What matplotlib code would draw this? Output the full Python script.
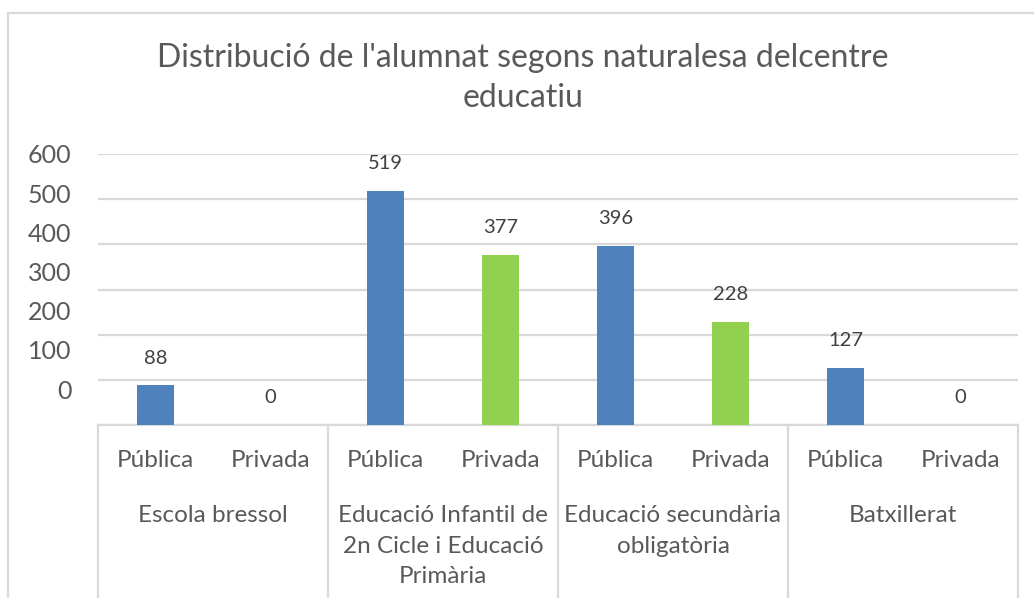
import matplotlib
matplotlib.use("Agg")
import matplotlib.pyplot as plt
from matplotlib.lines import Line2D
import numpy as np

# ---- data ----
groups = ["Escola bressol",
          "Educació Infantil de\n2n Cicle i Educació\nPrimària",
          "Educació secundària\nobligatòria",
          "Batxillerat"]
subcats = ["Pública", "Privada"]
values = [88, 0, 519, 377, 396, 228, 127, 0]
yticks = [0, 100, 200, 300, 400, 500, 600]
title = "Distribució de l'alumnat segons naturalesa delcentre\neducatiu"

plt.rcParams['font.family'] = ['Lato', 'DejaVu Sans']

W, H = 1034, 598
fig = plt.figure(figsize=(W / 100, H / 100), dpi=100)
ax = fig.add_axes([98 / W, 1 - 425 / H, (1018 - 98) / W, (425 - 154) / H])

blue = "#4F81BD"
green = "#92D050"
grid_c = "#D9D9D9"
txt_c = "#595959"

n = len(values)
x = np.arange(n)
colors = [blue if i % 2 == 0 else green for i in range(n)]
bars = ax.bar(x, values, width=0.32, color=colors, zorder=3)

ax.set_xlim(-0.5, n - 0.5)
ax.set_ylim(0, 600)

for b, v in zip(bars, values):
    ax.annotate(str(v), (b.get_x() + b.get_width() / 2, v),
                xytext=(0, 13.5), textcoords="offset points",
                ha="center", va="bottom", fontsize=14.5, color="#404040")

# grid
ax.set_yticks(yticks)
ax.yaxis.grid(True, color=grid_c, linewidth=1.6, zorder=0)
ax.tick_params(axis='y', length=0, labelleft=False)
ax.tick_params(axis='x', length=0, labelbottom=False)
for s in ["top", "right", "left"]:
    ax.spines[s].set_visible(False)
ax.spines["bottom"].set_color(grid_c)
ax.spines["bottom"].set_linewidth(1.6)

# y tick labels (as rendered in reference: compressed spacing)
ytr = ax.get_yaxis_transform()
for i, t in enumerate(yticks):
    ypos = 75 + i * 86.8
    ax.text(-0.029, ypos, str(t), transform=ytr, ha="right", va="center",
            fontsize=18, color=txt_c)

# sub category labels
xtr = ax.get_xaxis_transform()
for i in range(n):
    ax.text(x[i], -0.131, subcats[i % 2], transform=xtr, ha="center", va="center",
            fontsize=17.5, color=txt_c)

# group labels
for g, name in enumerate(groups):
    ax.text(2 * g + 0.5, -0.294, name, transform=xtr, ha="center", va="top",
            fontsize=17.5, color=txt_c, linespacing=1.58, multialignment="center")

# group separators
bottom_ext = -(H - 425) / (425 - 154)
for k in range(len(groups) + 1):
    ax.plot([2 * k - 0.5, 2 * k - 0.5], [0, bottom_ext], transform=xtr,
            color=grid_c, linewidth=1.6, clip_on=False, zorder=1)

# chart border
fig.add_artist(Line2D([8 / W, 8 / W], [0, 1 - 13 / H], color=grid_c, lw=1.6,
                      transform=fig.transFigure))
fig.add_artist(Line2D([8 / W, 1], [1 - 13 / H, 1 - 13 / H], color=grid_c, lw=1.6,
                      transform=fig.transFigure))

fig.text(0.506, 1 - 78 / H, title, ha="center", va="center", fontsize=23,
         color=txt_c, linespacing=1.42)

fig.savefig("out.png", dpi=100, facecolor="white")
